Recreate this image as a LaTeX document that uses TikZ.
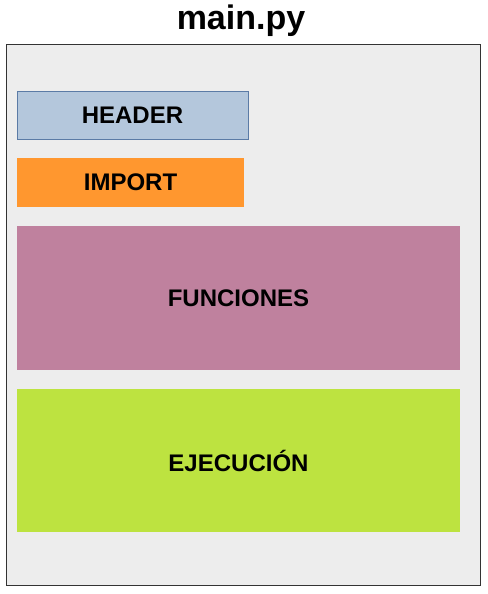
\documentclass[tikz,border=0pt]{standalone}
\usepackage{fontspec}
\setmainfont{Liberation Sans}
\definecolor{framebg}{HTML}{EDEDED}
\definecolor{headerfill}{HTML}{B4C7DC}
\definecolor{headerline}{HTML}{5B7BA6}
\definecolor{importfill}{HTML}{FF972F}
\definecolor{funcfill}{HTML}{BF819E}
\definecolor{execfill}{HTML}{BDE340}
\begin{document}
\begin{tikzpicture}[x=1pt, y=-1pt, font=\bfseries]
    % Define styles
    \tikzset{
        block/.style={rectangle, inner sep=0pt, font=\fontsize{24}{28}\selectfont\bfseries},
        frame/.style={draw=black!80, fill=framebg, line width=1pt},
    }
    \useasboundingbox (0,0) rectangle (487,594);

    % Title and frame
    \node (title) at (241,21) {\fontsize{34}{40}\selectfont main.py};
    \draw[frame] (6,45) rectangle (480,585);

    % Sections of the file
    \node[block, draw=headerline, fill=headerfill, minimum width=231pt, minimum height=48pt] (header) at (132.5,115) {HEADER};
    \node[block, fill=importfill, minimum width=227pt, minimum height=49pt] (import) at (130.5,182.5) {IMPORT};
    \node[block, fill=funcfill, minimum width=443pt, minimum height=144pt] (funciones) at (238.5,298) {FUNCIONES};
    \node[block, fill=execfill, minimum width=443pt, minimum height=143pt] (ejecucion) at (238.5,460.5) {EJECUCIÓN};
\end{tikzpicture}
\end{document}
